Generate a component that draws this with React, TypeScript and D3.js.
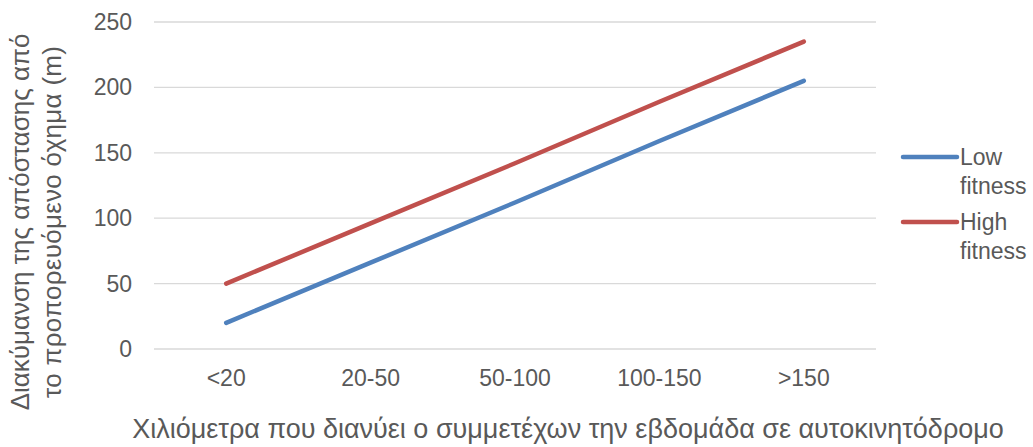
import React from "react";
import * as d3 from "d3";

const categories = ["<20", "20-50", "50-100", "100-150", ">150"];
const lowFitness = [20, 66, 112, 159, 205];
const highFitness = [50, 96, 142, 189, 235];
const yTicks = [0, 50, 100, 150, 200, 250];
const seriesNames = ["Low fitness", "High fitness"];
const seriesColors = ["#4f81bd", "#c0504d"];

const W = 1033;
const H = 447;
const left = 154;
const right = 876;
const top = 22;
const bottom = 349;
const font = "'Liberation Sans', Arial, sans-serif";
const textColor = "#595959";

export default function App() {
  const x = d3.scaleBand<string>().domain(categories).range([left, right]);
  const y = d3.scaleLinear().domain([0, 250]).range([bottom, top]);
  const line = d3
    .line<number>()
    .x((_, i) => (x(categories[i]) as number) + x.bandwidth() / 2)
    .y((d) => y(d));
  const series = [lowFitness, highFitness];

  return (
    <svg width={W} height={H} style={{ position: "absolute", left: 0, top: 0 }} fontFamily={font}>
      <rect width={W} height={H} fill="#fff" />
      {yTicks.map((t) => (
        <g key={t}>
          <line x1={left} x2={right} y1={y(t)} y2={y(t)} stroke="#d9d9d9" strokeWidth={1.3} />
          <text x={132} y={y(t) + 8} textAnchor="end" fontSize={23} fill={textColor}>
            {t}
          </text>
        </g>
      ))}
      {categories.map((c) => (
        <text
          key={c}
          x={(x(c) as number) + x.bandwidth() / 2}
          y={386}
          textAnchor="middle"
          fontSize={23}
          fill={textColor}
        >
          {c}
        </text>
      ))}
      {series.map((s, i) => (
        <path
          key={i}
          d={line(s) as string}
          fill="none"
          stroke={seriesColors[i]}
          strokeWidth={4.5}
          strokeLinecap="round"
          strokeLinejoin="round"
        />
      ))}
      {seriesNames.map((n, i) => {
        const ly = 157 + i * 65;
        const parts = n.split(" ");
        return (
          <g key={n}>
            <line x1={903} x2={957} y1={ly} y2={ly} stroke={seriesColors[i]} strokeWidth={4.5} strokeLinecap="round" />
            <text x={960} y={ly + 8} fontSize={23} fill={textColor}>
              {parts[0]}
            </text>
            <text x={960} y={ly + 37} fontSize={23} fill={textColor}>
              {parts[1]}
            </text>
          </g>
        );
      })}
      <text x={568} y={438} textAnchor="middle" fontSize={27} fill={textColor}>
        Χιλιόμετρα που διανύει ο συμμετέχων την εβδομάδα σε αυτοκινητόδρομο
      </text>
      <text transform="translate(29,222) rotate(-90)" textAnchor="middle" fontSize={26} fill={textColor}>
        Διακύμανση της απόστασης από
      </text>
      <text
        transform="translate(61,222) rotate(-90)"
        textAnchor="middle"
        fontSize={26}
        fill={textColor}
        textLength={352}
        lengthAdjust="spacing"
      >
        το προπορευόμενο όχημα (m)
      </text>
    </svg>
  );
}
